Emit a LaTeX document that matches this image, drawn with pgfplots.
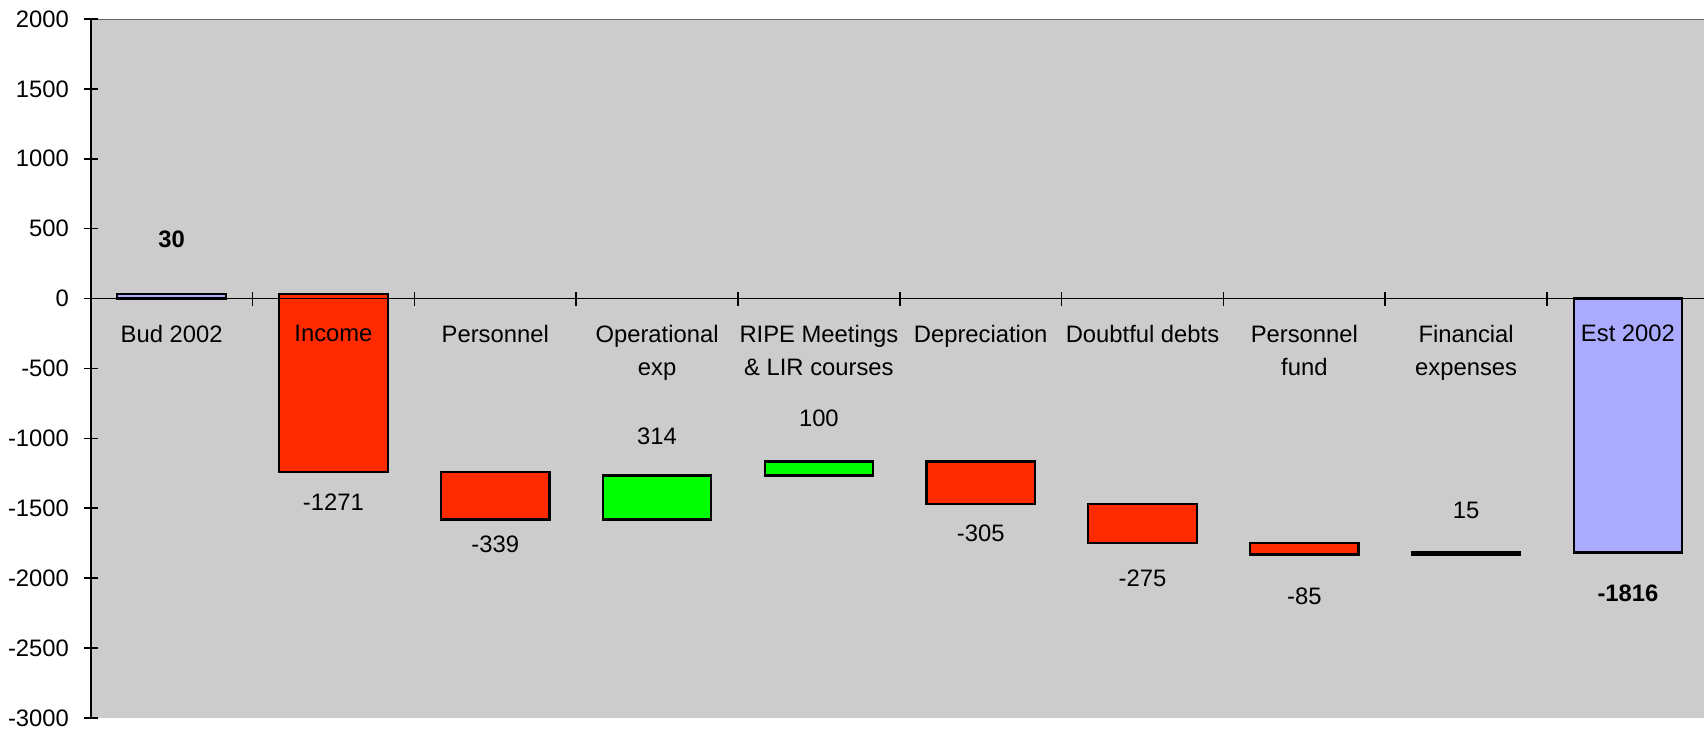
\documentclass[border=0pt]{standalone}
\usepackage{fontspec}
\setmainfont{Liberation Sans}
\usepackage{pgfplots}
\pgfplotsset{compat=1.18}
\definecolor{bg}{HTML}{CCCCCC}
\definecolor{barred}{HTML}{FF2A00}
\definecolor{bargreen}{HTML}{00FF00}
\definecolor{barblue}{HTML}{AAAAFF}

\begin{document}
\fontsize{11.9}{16.7}\selectfont
\begin{tikzpicture}[
  lab/.style={anchor=north, inner sep=0pt, align=center, yshift=-13pt},
  val/.style={anchor=center, inner sep=0pt},
]
\begin{axis}[
  axis on top,
  scale only axis, width=806.65pt, height=349.5pt,
  xmin=-0.5, xmax=9.47, ymin=-3000, ymax=2000,
  ytick={-3000,-2500,...,2000},
  axis y line=left, axis x line=middle,
  axis line style={-, black, line width=0.9pt},
  xtick={0.5,1.5,...,8.5}, xticklabels={},
  tick align=center, major tick length=7pt,
  tick style={black, line width=0.8pt},
  /pgf/number format/assume math mode=true,
  /pgf/number format/1000 sep={},
  yticklabel style={inner sep=0pt, anchor=east, xshift=-7.2pt},
  axis background/.style={fill=bg},
  ybar stacked, stack negative=on previous, bar width=0.67,
]
% invisible base of each floating bar
\addplot[draw=none, fill=none] coordinates
  {(0,0) (1,-1241) (2,-1580) (3,-1580) (4,-1266) (5,-1471) (6,-1746) (7,-1831) (8,-1831) (9,0)};
% decreases
\addplot[fill=barred, draw=black, line width=1.1pt] coordinates
  {(0,0) (1,1271) (2,339) (3,0) (4,0) (5,305) (6,275) (7,85) (8,0) (9,0)};
% increases
\addplot[fill=bargreen, draw=black, line width=1.1pt] coordinates
  {(0,0) (1,0) (2,0) (3,314) (4,100) (5,0) (6,0) (7,0) (8,15) (9,0)};
% totals
\addplot[fill=barblue, draw=black, line width=1.1pt] coordinates
  {(0,30) (1,0) (2,0) (3,0) (4,0) (5,0) (6,0) (7,0) (8,0) (9,-1816)};

\draw[gray!80!black] (rel axis cs:0,1) -- (rel axis cs:1,1);
\draw[gray!80!black] (rel axis cs:0,0) -- (rel axis cs:1,0);

% anchor points for category names (on the zero line) and value labels
\coordinate (c0) at (axis cs:0,0);
\coordinate (c1) at (axis cs:1,0);
\coordinate (c2) at (axis cs:2,0);
\coordinate (c3) at (axis cs:3,0);
\coordinate (c4) at (axis cs:4,0);
\coordinate (c5) at (axis cs:5,0);
\coordinate (c6) at (axis cs:6,0);
\coordinate (c7) at (axis cs:7,0);
\coordinate (c8) at (axis cs:8,0);
\coordinate (c9) at (axis cs:9,0);
\coordinate (v0) at (axis cs:0,426);
\coordinate (v1) at (axis cs:1,-1455);
\coordinate (v2) at (axis cs:2,-1755);
\coordinate (v3) at (axis cs:3,-987);
\coordinate (v4) at (axis cs:4,-855);
\coordinate (v5) at (axis cs:5,-1677);
\coordinate (v6) at (axis cs:6,-2002);
\coordinate (v7) at (axis cs:7,-2127);
\coordinate (v8) at (axis cs:8,-1513);
\coordinate (v9) at (axis cs:9,-2111);
\coordinate (zl) at (axis cs:-0.5,0);
\coordinate (zr) at (axis cs:9.47,0);

\coordinate (sw) at (rel axis cs:0,0);
\coordinate (ne) at (rel axis cs:1,1);
\end{axis}

% zero line drawn over the bars, as in the reference
\draw[black, line width=0.9pt] (zl) -- (zr);

\node[lab] at (c0) {Bud 2002};
\node[lab] at (c1) {Income};
\node[lab] at (c2) {Personnel};
\node[lab] at (c3) {Operational\\exp};
\node[lab] at (c4) {RIPE Meetings\\\& LIR courses};
\node[lab] at (c5) {Depreciation};
\node[lab] at (c6) {Doubtful debts};
\node[lab] at (c7) {Personnel\\fund};
\node[lab] at (c8) {Financial\\expenses};
\node[lab] at (c9) {Est 2002};

\node[val] at (v0) {\textbf{30}};
\node[val] at (v1) {-1271};
\node[val] at (v2) {-339};
\node[val] at (v3) {314};
\node[val] at (v4) {100};
\node[val] at (v5) {-305};
\node[val] at (v6) {-275};
\node[val] at (v7) {-85};
\node[val] at (v8) {15};
\node[val] at (v9) {\textbf{-1816}};

\pgfresetboundingbox
\path ([shift={(-45.35pt,-5.5pt)}]sw) rectangle ([shift={(0pt,9.5pt)}]ne);
\end{tikzpicture}
\end{document}
